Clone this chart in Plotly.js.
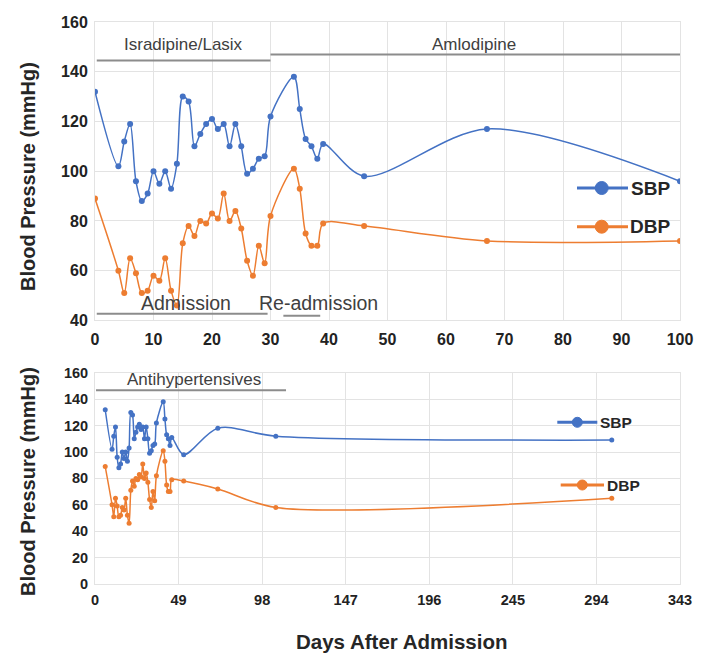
<!DOCTYPE html>
<html>
<head>
<meta charset="utf-8">
<script src="https://cdn.plot.ly/plotly-3.0.1.min.js"></script>
<style>html,body{margin:0;padding:0;background:#fff;}#chart{width:709px;height:656px;}</style>
</head>
<body>
<div id="chart"></div>
<script>
// ---- Top panel data (days 0-100) ----
const topDays = [0,4,5,6,7,8,9,10,11,12,13,14,15,16,17,18,19,20,21,22,23,24,25,26,27,28,29,30,34,35,36,37,38,39,46,67,100];
const topSBP  = [132,102,112,119,96,88,91,100,95,100,93,103,130,128,110,115,119,121,117,119,110,119,110,99,101,105,106,122,138,125,113,110,105,111,98,117,96];
const topDBP  = [89,60,51,65,59,51,52,58,56,65,52,46,71,78,74,80,79,83,81,91,80,84,77,64,58,70,63,82,101,93,75,70,70,79,78,72,72];

// ---- Bottom panel data (days 0-343) ----
const botDays = [6,10,11,12,13,14,15,16,17,18,19,20,21,22,23,24,25,26,27,28,29,30,31,32,33,34,35,36,40,41,42,43,44,45,52,72,106,303];
const botSBP  = [132,102,112,119,96,88,91,100,95,100,93,103,130,128,110,115,119,121,117,119,110,119,110,99,101,105,106,122,138,125,113,110,105,111,98,118,112,109];
const botDBP  = [89,60,51,65,59,51,52,58,56,65,52,46,71,78,74,80,79,83,81,91,80,84,77,64,58,70,63,82,101,93,75,70,70,79,78,72,58,65];

// ---- Period labels ----
const topPeriodLabels = ['Isradipine/Lasix','Amlodipine'];
const topPeriodStart  = [0.3, 30];
const topPeriodEnd    = [30, 100];
const admitLabels = ['Admission','Re-admission'];
const admitStart  = [0.3, 32.2];
const admitEnd    = [29.5, 38.5];
const botPeriodLabels = ['Antihypertensives'];
const botPeriodStart  = [0.6];
const botPeriodEnd    = [112];

const BLUE = '#4472C4', ORANGE = '#ED7D31';
const FONT = 'Liberation Sans, Arial, sans-serif';
const GRID = '#e3e3e3';

function tr(x, y, color, xa, ya, msize, name) {
  return {x: x, y: y, xaxis: xa, yaxis: ya, type: 'scatter', mode: 'lines+markers', name: name,
    showlegend: false,
    line: {color: color, width: 1.5, shape: 'spline', smoothing: 0.9},
    marker: {color: color, size: msize}};
}
const data = [
  tr(topDays, topSBP, BLUE, 'x', 'y', 6, 'SBP'),
  tr(topDays, topDBP, ORANGE, 'x', 'y', 6, 'DBP'),
  tr(botDays, botSBP, BLUE, 'x2', 'y2', 5, 'SBP'),
  tr(botDays, botDBP, ORANGE, 'x2', 'y2', 5, 'DBP')
];

const tickFontTop = {family: FONT, size: 16, color: '#222', weight: 'bold'};
const tickFontBot = {family: FONT, size: 14.5, color: '#222', weight: 'bold'};
const titleFont = {family: FONT, size: 20, color: '#262626', weight: 'bold'};

function axisCommon() {
  return {showgrid: true, gridcolor: GRID, gridwidth: 1, zeroline: false, showline: true,
    linecolor: GRID, mirror: true, ticks: '', fixedrange: true};
}

const layout = {
  width: 709, height: 656,
  margin: {l: 95, r: 29, t: 22, b: 72},
  paper_bgcolor: '#fff', plot_bgcolor: '#fff',
  showlegend: false,
  font: {family: FONT},
  xaxis: Object.assign(axisCommon(), {domain: [0, 1], anchor: 'y', range: [0, 100], tick0: 0, dtick: 10, tickfont: tickFontTop, ticklabelstandoff: 4}),
  yaxis: Object.assign(axisCommon(), {domain: [0.4689, 1], anchor: 'x', range: [40, 160], tick0: 40, dtick: 20, tickfont: tickFontTop, ticklabelstandoff: 3}),
  xaxis2: Object.assign(axisCommon(), {domain: [0, 1], anchor: 'y2', range: [0, 343], tick0: 0, dtick: 49, tickfont: tickFontBot, ticklabelstandoff: 3}),
  yaxis2: Object.assign(axisCommon(), {domain: [0, 0.3758], anchor: 'x2', range: [0, 160], tick0: 0, dtick: 20, tickfont: tickFontBot, ticklabelstandoff: 3}),
  shapes: [],
  annotations: []
};

function px(x) { return (x - 95) / 585; }
function py(y) { return (584 - y) / 562; }

// axis titles
layout.annotations.push({text: 'Blood Pressure (mmHg)', xref: 'paper', yref: 'paper', x: px(28), y: py(177), textangle: -90,
  xanchor: 'center', yanchor: 'middle', showarrow: false, font: titleFont});
layout.annotations.push({text: 'Blood Pressure (mmHg)', xref: 'paper', yref: 'paper', x: px(28), y: py(482), textangle: -90,
  xanchor: 'center', yanchor: 'middle', showarrow: false, font: titleFont});
layout.annotations.push({text: 'Days After Admission', xref: 'paper', yref: 'paper', x: 0.525, y: py(641),
  xanchor: 'center', yanchor: 'middle', showarrow: false, font: {family: FONT, size: 20.5, color: '#262626', weight: 'bold'}});

// period labels, top
const periodTextY = 150.9, periodLineY = [144.5, 146.9];
topPeriodLabels.forEach((lab, i) => {
  layout.shapes.push({type: 'line', xref: 'x', yref: 'y', x0: topPeriodStart[i], x1: topPeriodEnd[i], y0: periodLineY[i], y1: periodLineY[i],
    line: {color: '#8c8c8c', width: 2}});
  layout.annotations.push({text: lab, xref: 'x', yref: 'y', x: (topPeriodStart[i] + topPeriodEnd[i]) / 2 - (i === 0 ? 0 : 0.3), y: periodTextY,
    showarrow: false, xanchor: 'center', yanchor: 'middle', font: {family: FONT, size: 17, color: '#404040'}});
});
const admitTextX = [15.6, 38.2], admitLineY = [42.7, 41.9];
admitLabels.forEach((lab, i) => {
  layout.shapes.push({type: 'line', xref: 'x', yref: 'y', x0: admitStart[i], x1: admitEnd[i], y0: admitLineY[i], y1: admitLineY[i],
    line: {color: '#8c8c8c', width: 2}});
  layout.annotations.push({text: lab, xref: 'x', yref: 'y', x: admitTextX[i], y: 46.9,
    showarrow: false, xanchor: 'center', yanchor: 'middle', font: {family: FONT, size: 19.5, color: '#404040'}});
});
botPeriodLabels.forEach((lab, i) => {
  layout.shapes.push({type: 'line', xref: 'x2', yref: 'y2', x0: botPeriodStart[i], x1: botPeriodEnd[i], y0: 146.7, y1: 146.7,
    line: {color: '#8c8c8c', width: 2}});
  layout.annotations.push({text: lab, xref: 'x2', yref: 'y2', x: 58.1, y: 155,
    showarrow: false, xanchor: 'center', yanchor: 'middle', font: {family: FONT, size: 17, color: '#404040'}});
});

// legends (drawn as key graphics)
function legendItem(label, color, lx0, lx1, mx, ly, tx, msz, fsz) {
  layout.shapes.push({type: 'line', xref: 'paper', yref: 'paper', x0: px(lx0), x1: px(lx1), y0: py(ly), y1: py(ly),
    line: {color: color, width: 3}});
  layout.shapes.push({type: 'circle', xref: 'paper', yref: 'paper', xsizemode: 'pixel', ysizemode: 'pixel',
    xanchor: px(mx), yanchor: py(ly), x0: -msz / 2, x1: msz / 2, y0: -msz / 2, y1: msz / 2,
    fillcolor: color, line: {color: color, width: 1}});
  layout.annotations.push({text: label, xref: 'paper', yref: 'paper', x: px(tx), y: py(ly), xanchor: 'left', yanchor: 'middle',
    showarrow: false, font: {family: FONT, size: fsz, color: '#262626', weight: 'bold'}});
}
legendItem('SBP', BLUE, 577, 628, 601.7, 188, 629, 13, 19);
legendItem('DBP', ORANGE, 577, 628, 601.7, 226.7, 628, 13, 19);
legendItem('SBP', BLUE, 557.3, 597.3, 577.3, 422.3, 598, 10, 15.5);
legendItem('DBP', ORANGE, 560.7, 604, 582.3, 485, 605, 10, 15.5);

Plotly.newPlot('chart', data, layout, {staticPlot: true, displayModeBar: false});
</script>
</body>
</html>
